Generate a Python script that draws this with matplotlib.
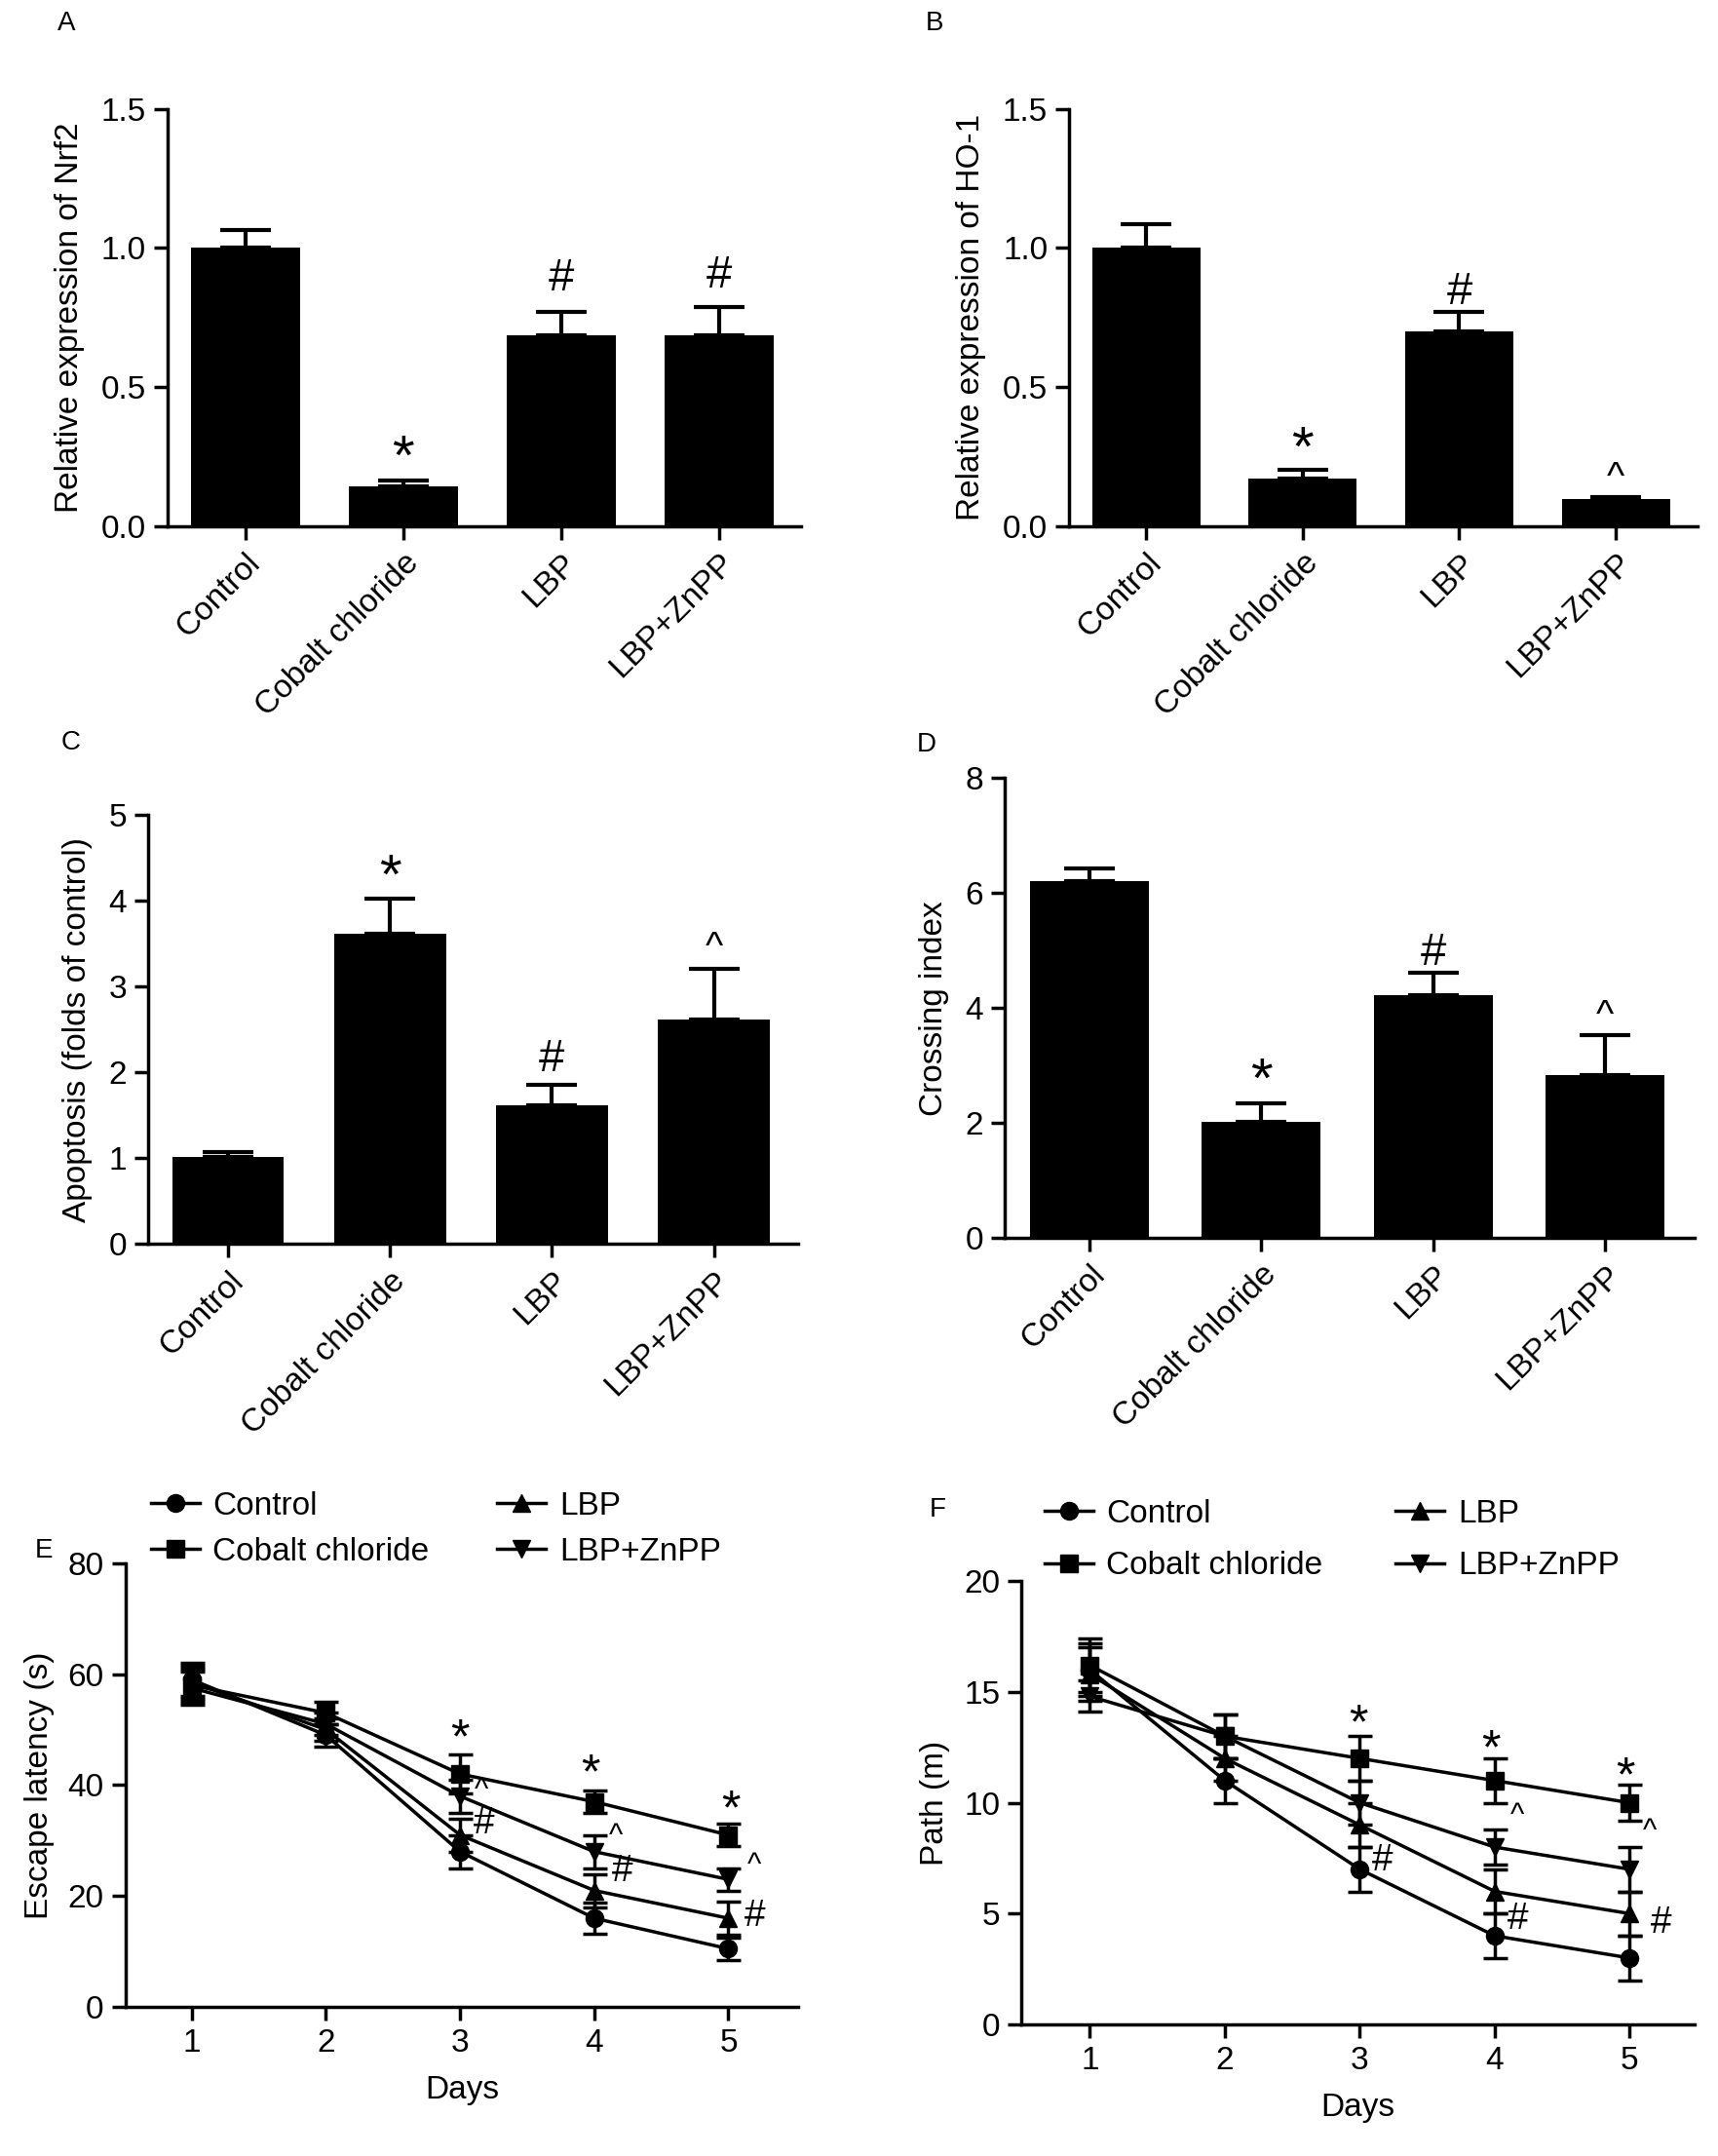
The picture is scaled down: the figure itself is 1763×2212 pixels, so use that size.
import numpy as np
import matplotlib.pyplot as plt

plt.rcParams['font.family'] = ['Liberation Sans', 'DejaVu Sans']
plt.rcParams['axes.linewidth'] = 2.5

# ---- data ----
groups = ["Control", "Cobalt chloride", "LBP", "LBP+ZnPP"]

nrf2_mean = [1.00, 0.145, 0.687, 0.687]
nrf2_err = [0.063, 0.02, 0.085, 0.10]
nrf2_sig = ["", "*", "#", "#"]

ho1_mean = [1.00, 0.17, 0.70, 0.097]
ho1_err = [0.087, 0.034, 0.069, 0.008]
ho1_sig = ["", "*", "#", "^"]

apop_mean = [1.02, 3.62, 1.62, 2.62]
apop_err = [0.05, 0.40, 0.23, 0.59]
apop_sig = ["", "*", "#", "^"]

cross_mean = [6.2, 2.02, 4.22, 2.84]
cross_err = [0.22, 0.33, 0.40, 0.69]
cross_sig = ["", "*", "#", "^"]

days = [1, 2, 3, 4, 5]

lat_control = [59, 49, 28, 16, 10.5]
lat_cobalt = [58, 53, 42, 37, 31]
lat_lbp = [58.5, 50, 31, 21, 16]
lat_znpp = [57.5, 51, 38, 28, 23]
lat_control_err = [3, 2, 3, 2.8, 2]
lat_cobalt_err = [3, 2, 3.5, 2, 2]
lat_lbp_err = [3, 2, 3, 3, 3]
lat_znpp_err = [3, 2, 3, 3, 2]

path_control = [16, 11, 7, 4, 3]
path_cobalt = [16.2, 13, 12, 11, 10]
path_lbp = [15.8, 12, 9, 6, 5]
path_znpp = [14.8, 13, 10, 8, 7]
path_control_err = [1.2, 1, 1, 1, 1]
path_cobalt_err = [1.2, 1, 1, 1, 0.8]
path_lbp_err = [1.2, 1, 1, 1, 1]
path_znpp_err = [0.7, 1, 1, 0.8, 1]

# significance marks on line plots: (x, y, symbol)
lat_marks = [(3.0, 48.0, "*"), (3.16, 39, "^"), (3.18, 33, "#"),
             (3.97, 41.7, "*"), (4.16, 30.7, "^"), (4.21, 24.4, "#"),
             (5.02, 35.3, "*"), (5.19, 25.5, "^"), (5.2, 16.4, "#")]
path_marks = [(2.99, 13.5, "*"), (3.17, 7.4, "#"),
              (3.97, 12.35, "*"), (4.17, 9.4, "^"), (4.17, 4.77, "#"),
              (4.97, 11.1, "*"), (5.15, 8.7, "^"), (5.23, 4.57, "#")]

FS = 24

fig = plt.figure(figsize=(17.63, 22.12), dpi=100)


def style_axes(ax):
    ax.spines['top'].set_visible(False)
    ax.spines['right'].set_visible(False)
    ax.tick_params(direction='out', length=10, width=2.5, labelsize=FS, pad=6)


def sig_size(s, big):
    if s == "*":
        return big + 8
    if s == "^":
        return big - 6
    return big


def bar_panel(rect, means, errs, sigs, ylim, yticks, fmt, ylabel, sig_y):
    ax = fig.add_axes(rect)
    x = np.arange(len(groups))
    ax.bar(x, means, width=0.69, color='black')
    ax.errorbar(x, means, yerr=[np.zeros(len(errs)), errs], fmt='none',
                ecolor='black', elinewidth=3, capsize=19, capthick=3)
    for xi, s, y in zip(x, sigs, sig_y):
        if s:
            ax.text(xi, y, s, ha='center', va='center',
                    fontsize=sig_size(s, 34))
    ax.set_xlim(-0.49, 3.52)
    ax.set_ylim(*ylim)
    ax.set_yticks(yticks)
    ax.set_yticklabels([fmt.format(t) for t in yticks])
    ax.set_xticks(x)
    ax.set_xticklabels(groups, rotation=45, ha='right', rotation_mode='anchor')
    ax.set_ylabel(ylabel, fontsize=FS, labelpad=12)
    style_axes(ax)
    return ax


bar_panel([0.0977, 0.7559, 0.3686, 0.1936], nrf2_mean, nrf2_err, nrf2_sig,
          (0, 1.5), [0, 0.5, 1.0, 1.5], "{:.1f}", "Relative expression of Nrf2",
          [0, 0.24, 0.89, 0.90])
bar_panel([0.6225, 0.7559, 0.3654, 0.1936], ho1_mean, ho1_err, ho1_sig,
          (0, 1.5), [0, 0.5, 1.0, 1.5], "{:.1f}", "Relative expression of HO-1",
          [0, 0.27, 0.84, 0.17])
bar_panel([0.0865, 0.423, 0.3781, 0.199], apop_mean, apop_err, apop_sig,
          (0, 5), [0, 1, 2, 3, 4, 5], "{:d}", "Apoptosis (folds of control)",
          [0, 4.25, 2.15, 3.45])
bar_panel([0.585, 0.4258, 0.4013, 0.2133], cross_mean, cross_err, cross_sig,
          (0, 8), [0, 2, 4, 6, 8], "{:d}", "Crossing index",
          [0, 2.7, 4.95, 3.85])


def line_panel(rect, series, errs, ylim, yticks, xlim, ylabel, marks,
               legend_anchor, colspace, labspace):
    ax = fig.add_axes(rect)
    labels = ["Control", "Cobalt chloride", "LBP", "LBP+ZnPP"]
    markers = ['o', 's', '^', 'v']
    handles = []
    for ys, es, lab, m in zip(series, errs, labels, markers):
        ax.errorbar(days, ys, yerr=es, fmt='none', ecolor='black',
                    elinewidth=2.5, capsize=9, capthick=2.5)
        h, = ax.plot(days, ys, color='black', lw=2.5, marker=m,
                     markersize=13, label=lab)
        handles.append(h)
    for xm, ym, s in marks:
        ax.text(xm, ym, s, ha='center', va='center',
                fontsize=sig_size(s, 28))
    ax.set_xlim(*xlim)
    ax.set_ylim(*ylim)
    ax.set_xticks(days)
    ax.set_yticks(yticks)
    ax.set_xlabel("Days", fontsize=FS, labelpad=12)
    ax.set_ylabel(ylabel, fontsize=FS, labelpad=10)
    style_axes(ax)
    fig.legend(handles=handles, ncol=2, loc='upper left',
               bbox_to_anchor=legend_anchor, bbox_transform=fig.transFigure,
               frameon=False, fontsize=FS, handlelength=1.5,
               handletextpad=0.4, columnspacing=colspace,
               labelspacing=labspace, borderpad=0, borderaxespad=0)
    return ax


line_panel([0.0731, 0.0691, 0.3915, 0.2059],
           [lat_control, lat_cobalt, lat_lbp, lat_znpp],
           [lat_control_err, lat_cobalt_err, lat_lbp_err, lat_znpp_err],
           (0, 80), [0, 20, 40, 60, 80], (0.507, 5.52), "Escape latency (s)",
           lat_marks, (155 / 1763, 1 - 1530 / 2212), 2.1, 0.47)
line_panel([0.5947, 0.061, 0.3916, 0.2057],
           [path_control, path_cobalt, path_lbp, path_znpp],
           [path_control_err, path_cobalt_err, path_lbp_err, path_znpp_err],
           (0, 20), [0, 5, 10, 15, 20], (0.495, 5.48), "Path (m)",
           path_marks, (1072 / 1763, 1 - 1538 / 2212), 2.25, 0.67)

# panel letters
for letter, px, py in [("A", 68, 24), ("B", 959, 24), ("C", 73, 762),
                       ("D", 951, 764), ("E", 45, 1591), ("F", 962, 1549)]:
    fig.text(px / 1763, 1 - py / 2212, letter, fontsize=20,
             ha='center', va='center')

fig.savefig("out.png", dpi=100)
